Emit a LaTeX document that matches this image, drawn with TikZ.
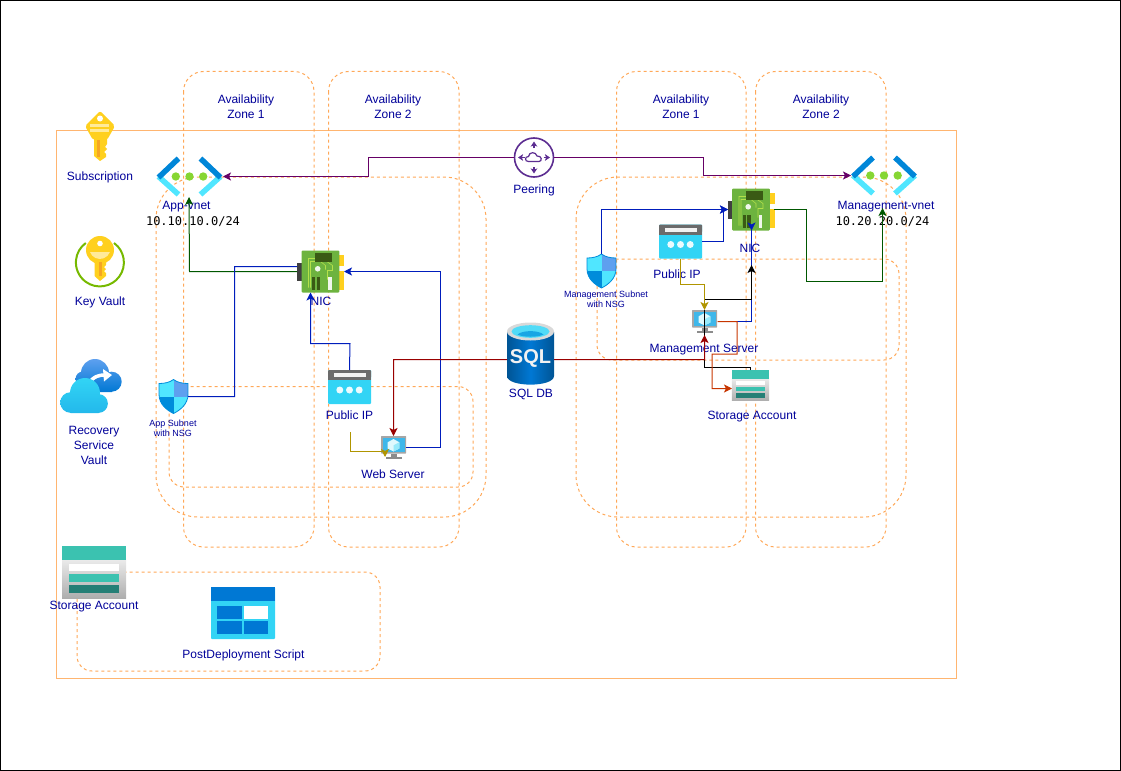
\documentclass[tikz,border=0pt]{standalone}
\usepackage{fontspec}
\setmainfont{Liberation Sans}
\newfontfamily\monofam{DejaVu Sans Mono}
\usetikzlibrary{arrows.meta}
\definecolor{lblc}{HTML}{000099}
\definecolor{dashc}{HTML}{FFA858}
\definecolor{framec}{HTML}{FFB570}
\definecolor{cpurple}{HTML}{660066}
\definecolor{cgreen}{HTML}{005700}
\definecolor{cblue}{HTML}{001DBC}
\definecolor{cred}{HTML}{990000}
\definecolor{cyel}{HTML}{B09500}
\definecolor{corg}{HTML}{C73500}
\definecolor{azc}{HTML}{32D4F5}
\definecolor{azb}{HTML}{0078D4}
\definecolor{azl}{HTML}{50E6FF}
\definecolor{azm}{HTML}{5EA0EF}
\definecolor{gold}{HTML}{FFD01E}
\definecolor{golddk}{HTML}{F5A623}
\definecolor{nicg}{HTML}{6DB33F}
\definecolor{nicd}{HTML}{3A5A14}
\definecolor{nict}{HTML}{B4E04A}
\definecolor{kvg}{HTML}{76B900}
\definecolor{teal1}{HTML}{3BC2B0}
\definecolor{teal2}{HTML}{257F76}
\definecolor{peerc}{HTML}{5C2D91}
\definecolor{vdot}{HTML}{86D633}
\tikzset{
  zone/.style={draw=dashc,dash pattern=on 3bp off 3bp,line width=1bp},
  lbl/.style={text=lblc,font=\fontsize{12bp}{15bp}\selectfont,align=center,inner sep=0pt,yshift=-1bp},
  smalllbl/.style={text=lblc,font=\fontsize{9bp}{10bp}\selectfont,align=center,inner sep=0pt},
  monolbl/.style={text=black,font=\monofam\fontsize{12bp}{15bp}\selectfont,inner sep=0pt},
  iconbox/.style={inner sep=0pt,outer sep=0pt,minimum width=#1},
  conn/.style={line width=1bp,line join=miter,-{Stealth[length=8bp,width=8bp,inset=2bp]}},
  plain/.style={line width=1bp},
  nicicon/.pic={
    \fill[black!75] (-23.5,-9) rectangle (-18.8,9);
    \fill[gold] (18.8,-16.7) rectangle (23.5,-5.3);
    \fill[gold] (18.8,-.3) rectangle (23.5,18.3);
    \fill[nicg,rounded corners=1bp] (-18.8,-21) rectangle (18.8,21);
    \draw[line width=.6bp,nict] (-12,16) -- (-12,-13) -- (2,-13) -- (12,-6) -- (12,-1) -- (7,-1) -- (7,8);
    \draw[line width=.6bp,nict] (-10,16) -- (-10,-10) -- (0,-10) -- (5,-6) -- (5,-2);
    \fill[nicd] (-5.5,-18.7) rectangle (11.8,-10);
    \fill[white!90!nicg] (-2.8,-2.7) circle (2.8);
    \fill[nicd] (-8.5,5) rectangle (-5.5,18.3);
    \fill[nicd] (-3.8,5) rectangle (-.5,18.3);
    \fill[white!90!nicg] (7.8,5) rectangle (11.2,18.3);
  },
  vneticon/.pic={
    \draw[azl,line width=5.5bp] (-31,0) -- (-11,18);
    \draw[azl,line width=5.5bp] (31,0) -- (11,18);
    \draw[azb!90!cyan,line width=5.5bp] (-31,1) -- (-11,-18);
    \draw[azb!90!cyan,line width=5.5bp] (31,1) -- (11,-18);
    \foreach \i in {-13.7,0,13.7} \fill[vdot] (\i,0) circle (4.2);
  },
  keyicon/.pic={
    \fill[gold,rounded corners=2bp] (0,-15) -- (15,0) -- (7,14) -- (-7,14) -- (-15,0) -- cycle;
    \fill[gold] (-6,10) -- (-6,30) -- (0,35) -- (6,31) -- (6,28) -- (4,26) -- (7,23) -- (5,21) -- (7,18) -- (7,10) -- cycle;
    \fill[golddk] (-3,14) rectangle (0,31);
    \fill[white] (0,-7.5) circle (3);
    \fill[white!55!gold] (-10,-2) rectangle (9,.5);
    \fill[white!55!gold] (-10,3) rectangle (9,5.5);
  },
  kvicon/.pic={
    \draw[kvg,line width=2bp] (14,-18) arc[start angle=-54,delta angle=288,radius=24];
    \fill[gold] (0,-11) circle (14);
    \fill[gold] (-5.5,0) -- (-5.5,15) -- (0,20) -- (6,15) -- (6,12) -- (4,10) -- (6,8) -- (4,6) -- (6,4) -- (6,0) -- cycle;
    \fill[white!55!gold] (-10,-9) arc[start angle=160,end angle=20,radius=10.6] -- cycle;
    \fill[golddk] (-1.5,1) rectangle (1.5,15);
    \fill[white] (0,-17.5) circle (2.8);
  },
  rsvicon/.pic={
    \shade[top color=azm,bottom color=azb] (4,-13) circle (14) (20.7,-4.3) circle (10) (-8,-7) circle (7.5) (21,-5) rectangle (-4,6);
    \draw[white,line width=3.5bp] (-3,-2) .. controls (3,-10) and (8,-11) .. (14,-11);
    \fill[white] (12,-17) -- (21,-11) -- (13,-4.5) -- cycle;
    \shade[top color=azc,bottom color=azc!70!azb] (-6,7) circle (15) (-20.5,16.5) circle (10.3) (7.5,17.5) circle (9.4) (7.5,13) rectangle (-20.5,27);
  },
  shieldicon/.pic={
    \begin{scope}
    \path[clip] (0,-17) .. controls (-4,-14) and (-9,-13) .. (-14.5,-13) -- (-14.5,-2) .. controls (-14.5,8) and (-6,14) .. (0,17) .. controls (6,14) and (14.5,8) .. (14.5,-2) -- (14.5,-13) .. controls (9,-13) and (4,-14) .. (0,-17) -- cycle;
    \fill[azl] (-15,-18) rectangle (0,0);
    \fill[azm] (0,-18) rectangle (15,0);
    \fill[azb!85!cyan] (-15,0) rectangle (0,18);
    \fill[azl] (0,0) rectangle (15,18);
    \end{scope}
    \draw[azb!85!cyan,line width=.8bp] (0,-17) .. controls (-4,-14) and (-9,-13) .. (-14.5,-13) -- (-14.5,-2) .. controls (-14.5,8) and (-6,14) .. (0,17) .. controls (6,14) and (14.5,8) .. (14.5,-2) -- (14.5,-13) .. controls (9,-13) and (4,-14) .. (0,-17) -- cycle;
  },
  pipicon/.pic={
    \fill[azc,rounded corners=1bp] (-21.5,-17) rectangle (21.5,17);
    \fill[black!58,rounded corners=1bp] (-21.5,-17) rectangle (21.5,-9);
    \fill[black!58] (-21.5,-11) rectangle (21.5,-7);
    \fill[white!95!black] (-16,-14) rectangle (16,-10);
    \foreach \i in {-9.7,0,9.7} \fill[white!90!azc] (\i,3) circle (3.5);
  },
  srvicon/.pic={
    \fill[black!35,rounded corners=.5bp] (-12.5,-11.5) rectangle (12.5,6);
    \fill[azc!55!azb!85!white] (-11,-10) rectangle (11,4.5);
    \fill[black!45] (-3,6) rectangle (3,9.5);
    \fill[black!45] (-8,9.5) rectangle (8,11.5);
    \fill[white!85!azc] (0,-8.5) -- (5.8,-5.2) -- (5.8,1) -- (0,4) -- (-5.8,1) -- (-5.8,-5.2) -- cycle;
    \fill[azc!50!white] (0,-2.2) -- (5.8,-5.2) -- (5.8,1) -- (0,4) -- cycle;
  },
  sqlicon/.pic={
    \shade[left color=azb!70!black,right color=azb!70!black,middle color=azb] (-23.5,-22) -- (-23.5,22) .. controls (-23.5,33.5) and (23.5,33.5) .. (23.5,22) -- (23.5,-22) -- cycle;
    \fill[black!15] (0,-22.5) ellipse (23.5 and 9);
    \fill[azc!85!white] (0,-22.5) ellipse (19 and 6.3);
    \fill[azb!50!azc] (-13,-19.5) .. controls (-8,-24) and (8,-24) .. (13,-19.5) .. controls (8,-16.5) and (-8,-16.5) .. (-13,-19.5) -- cycle;
    \node[text=white!95!black,font=\bfseries\fontsize{20bp}{20bp}\selectfont,inner sep=0pt] at (0,4) {SQL};
  },
  peericon/.pic={
    \draw[peerc,line width=1.6bp,fill=white] (0,0) circle (19.5);
    \foreach \r in {0,90,180,270}
      \draw[peerc,line width=1.5bp,rotate=\r,-{Stealth[length=5bp,width=6.5bp,inset=1bp]}] (9.5,0) -- (16,0);
    \draw[peerc,line width=1.2bp,fill=white] (-5.5,4) .. controls (-9.5,4) and (-9.5,-1) .. (-5.5,-1) .. controls (-5,-6) and (2,-6) .. (3,-1.5) .. controls (8,-2) and (8.5,4) .. (5,4) -- cycle;
  },
  stoicon/.pic={
    \shade[top color=black!7,bottom color=black!32] (-32,-14) rectangle (32,26);
    \fill[teal1] (-32,-26) rectangle (32,-12);
    \fill[white] (-24.7,-8) rectangle (24.7,-1);
    \fill[teal1] (-24.7,2.3) rectangle (24.7,10);
    \fill[teal2] (-24.7,13.3) rectangle (24.7,20.7);
  },
  scripticon/.pic={
    \fill[azc,rounded corners=1bp] (-32,-26) rectangle (32,26);
    \fill[azb] (-32,-26) rectangle (32,-12.5);
    \fill[azb] (-25.7,-7.2) rectangle (-1.3,5.5);
    \fill[white] (1,-7.2) rectangle (25.3,5.5);
    \fill[azb] (-25.7,8.2) rectangle (-1.3,21.2);
    \fill[azb] (1,8.2) rectangle (25.3,21.2);
  }
}
\begin{document}
\begin{tikzpicture}[x=1bp,y=-1bp]
\useasboundingbox (0,0) rectangle (1121,771);
\draw[black,line width=1bp] (.5,.5) rectangle (1120.5,770.5);
\draw[framec,line width=1bp] (56,130.5) rectangle (956.5,678.5);
% dashed containers
\foreach \a/\b in {183.5/314,328.5/459,616.5/746,755.5/886}
  \draw[zone,rounded corners=20bp] (\a,71.5) rectangle (\b,547);
\draw[zone,rounded corners=42bp] (156,177) rectangle (486,517);
\draw[zone,rounded corners=42bp] (576,177) rectangle (906,517);
\draw[zone,rounded corners=15bp] (169,386.5) rectangle (473,487);
\draw[zone,rounded corners=15bp] (597,259) rectangle (899,360);
\draw[zone,rounded corners=15bp] (77,572) rectangle (380,671);
% icon anchors
\node[iconbox=30bp,minimum height=50bp] (subkey) at (100,136) {};
\node[iconbox=48bp,minimum height=50bp] (kv) at (100,261) {};
\node[iconbox=62bp,minimum height=54bp] (rsv) at (91,386) {};
\node[iconbox=64bp,minimum height=52bp] (stoA) at (94,572) {};
\node[iconbox=64bp,minimum height=52bp] (script) at (243,613) {};
\node[iconbox=67bp,minimum height=40bp] (vnetA) at (189.5,176.5) {};
\node[iconbox=66bp,minimum height=40bp] (vnetB) at (884,175.5) {};
\node[iconbox=47bp,minimum height=42bp] (nicA) at (320.5,271.5) {};
\node[iconbox=46bp,minimum height=42bp] (nicB) at (751,209.5) {};
\node[iconbox=29bp,minimum height=34bp] (shA) at (173.5,396.5) {};
\node[iconbox=29bp,minimum height=34bp] (shB) at (601.5,271) {};
\node[iconbox=43bp,minimum height=34bp] (pipA) at (349.5,387) {};
\node[iconbox=43bp,minimum height=34bp] (pipB) at (680.5,241.5) {};
\node[iconbox=25bp,minimum height=23bp] (srvA) at (393.5,447.5) {};
\node[iconbox=26bp,minimum height=23bp] (srvB) at (704.5,321.5) {};
\node[iconbox=47bp,minimum height=63bp] (sql) at (530.5,354) {};
\node[iconbox=40bp,minimum height=40bp] (peer) at (534,157.5) {};
\node[iconbox=37bp,minimum height=31bp] (stoB) at (750.5,385.5) {};
% icons
\pic at ([yshift=10bp]subkey) {keyicon};
\pic at (kv) {kvicon};
\pic at (rsv) {rsvicon};
\pic at (stoA) {stoicon};
\pic at (script) {scripticon};
\pic at (vnetA) {vneticon};
\pic at (vnetB) {vneticon};
\pic at (nicA) {nicicon};
\pic at (nicB) {nicicon};
\pic at (shA) {shieldicon};
\pic at (shB) {shieldicon};
\pic at (pipA) {pipicon};
\pic at (pipB) {pipicon};
\pic at (srvA) {srvicon};
\pic at (srvB) {srvicon};
\pic at (sql) {sqlicon};
\pic at (peer) {peericon};
\pic[scale=.58] at (stoB) {stoicon};
% labels
\node[lbl] (az1) at (246,105.9) {Availability\\Zone 1};
\node[lbl] (az2) at (393,105.9) {Availability\\Zone 2};
\node[lbl] (az3) at (681,105.9) {Availability\\Zone 1};
\node[lbl] (az4) at (821,105.9) {Availability\\Zone 2};
\node[lbl] (lsub) at (100,176) {Subscription};
\node[lbl] (lkv) at (100,301) {Key Vault};
\node[lbl] (lrsv) at (94,444) {Recovery\\Service\\Vault};
\node[lbl] (lstoA) at (94,606) {Storage Account};
\node[lbl] (lscript) at (243.5,654) {PostDeployment Script};
\node[lbl] (lvnetA) at (186.5,206) {App-vnet};
\node[monolbl] (ipA) at (193,222) {10.10.10.0/24};
\node[lbl] (lvnetB) at (886,206) {Management-vnet};
\node[monolbl] (ipB) at (882.5,222) {10.20.20.0/24};
\node[lbl] (lnicA) at (321,300.5) {NIC};
\node[lbl] (lnicB) at (750,247.5) {NIC};
\node[lbl] (lpeer) at (534,189) {Peering};
\node[smalllbl] (lshA) at (173,428) {App Subnet\\with NSG};
\node[smalllbl] (lshB) at (606,299) {Management Subnet\\with NSG};
\node[lbl] (lpipA) at (349.5,414.5) {Public IP};
\node[lbl] (lpipB) at (677,273) {Public IP};
\node[lbl] (lsrvA) at (393,473.5) {Web Server};
\node[lbl] (lsrvB) at (704,348.5) {Management Server};
\node[lbl] (lsql) at (531,393) {SQL DB};
\node[lbl] (lstoB) at (752,415.5) {Storage Account};
% free ends
\coordinate (yelA) at (350,432);
\coordinate (yelAt) at (385,457);
\coordinate (blkJ) at (704.5,299);
\coordinate (blkT) at (751.5,265);
\coordinate (grnA) at (189,197);
\coordinate (grnB) at (882.5,208);
% connectors
\draw[conn,cpurple] (peer.west) -- (368,157.5) -- (368,176.5) -- (vnetA.east);
\draw[conn,cpurple] (peer.east) -- (703,157.5) -- (703,175.5) -- (vnetB.west);
\draw[conn,cgreen] (nicA.west) -- (189.5,271.5) -- (grnA);
\draw[conn,cgreen] (nicB.east) -- (806.5,209.5) -- (806.5,281.5) -- (882.5,281.5) -- (grnB);
\draw[plain,cblue] (shA.east) -- (234.5,396.5) -- (234.5,266.5) -- ([yshift=5bp]nicA.west);
\draw[conn,cblue] (pipA.north) -- (350,343.5) -- (310.5,343.5) -- ([xshift=-10bp]nicA.south);
\draw[conn,cblue] (srvA.east) -- (440.5,447.5) -- (440.5,271.5) -- (nicA.east);
\draw[conn,cblue] (shB.north) -- (601.5,209.5) -- (nicB.west);
\draw[conn,cblue] (pipB.east) -- (723,241.5) -- (723,209.5) -- (nicB.west);
\draw[conn,cblue] (srvB.east) -- (751.5,321.5) -- (751.5,230.5) -- ([xshift=.5bp]nicB.south);
\draw[conn,black] (blkJ) -- (751.5,299) -- (blkT);
\draw[black,line width=1bp] (stoB.north) -- (750.5,367.5) -- (704.5,367.5) -- (srvB.north);
\draw[conn,cred] ([yshift=-5.5bp]sql.west) -- (393.5,359.5) -- (srvA.north);
\draw[conn,cred] ([yshift=-5.5bp]sql.east) -- (704.5,359.5) -- ([yshift=-2bp]srvB.south);
\draw[conn,corg] (srvB.east) -- (737,321.5) -- (737,354) -- (712,354) -- (712,388.5) -- ([yshift=-3bp]stoB.west);
\draw[conn,cyel] (yelA) -- (350,451.5) -- (385,451.5) -- (yelAt);
\draw[conn,cyel] (pipB.south) -- (680.5,284.5) -- (704.5,284.5) -- (srvB.north);
\end{tikzpicture}
\end{document}
